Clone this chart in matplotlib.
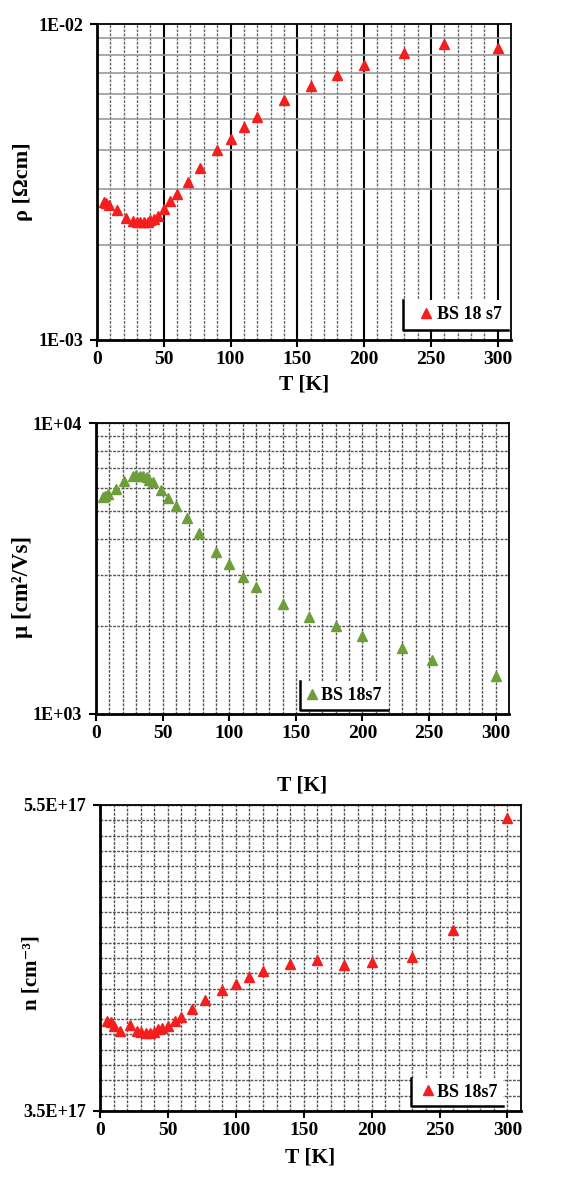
import numpy as np
import matplotlib
matplotlib.use('Agg')
import matplotlib.pyplot as plt
from matplotlib.ticker import MultipleLocator, FixedLocator, LogLocator, NullFormatter
from matplotlib.lines import Line2D

plt.rcParams['font.family'] = ['Liberation Serif', 'DejaVu Serif']
plt.rcParams['font.weight'] = 'bold'

# resistivity
T_rho = [5, 7, 9, 15, 22, 27, 30, 32, 35, 38, 40, 43, 46, 50, 55, 60, 68, 77,
         90, 100, 110, 120, 140, 160, 180, 200, 230, 260, 300]
rho = [2.73, 2.71, 2.67, 2.58, 2.43, 2.38, 2.36, 2.36, 2.36, 2.37, 2.40, 2.42,
       2.47, 2.60, 2.75, 2.90, 3.16, 3.49, 3.99, 4.34, 4.73, 5.09, 5.75, 6.37,
       6.88, 7.42, 8.07, 8.62, 8.42]  # x1e-3 Ohm cm

# mobility
T_mu = [5, 7, 9, 15, 21, 28, 30, 33, 35, 38, 40, 43, 49, 54, 60, 68, 77, 90,
        100, 110, 120, 140, 160, 180, 200, 230, 252, 300]
mu = [5.55, 5.63, 5.70, 5.93, 6.30, 6.56, 6.63, 6.60, 6.58, 6.50, 6.38, 6.25,
      5.90, 5.52, 5.17, 4.72, 4.19, 3.59, 3.28, 2.96, 2.73, 2.39, 2.15, 2.00,
      1.85, 1.69, 1.53, 1.354]  # x1e3 cm2/Vs

# carrier concentration
T_n = [5, 8, 10, 15, 22, 27, 30, 34, 37, 40, 43, 46, 50, 55, 60, 68, 77, 90,
       100, 110, 120, 140, 160, 180, 200, 230, 260, 300]
n = [4.09, 4.08, 4.058, 4.025, 4.06, 4.025, 4.014, 4.008, 4.012, 4.018, 4.034,
     4.04, 4.056, 4.09, 4.117, 4.165, 4.225, 4.29, 4.33, 4.374, 4.417, 4.459,
     4.485, 4.452, 4.474, 4.509, 4.683, 5.413]  # x1e17 cm-3

red = '#F41E1E'
green = '#6E9E3A'

fig = plt.figure(figsize=(5.63, 11.78), dpi=100)
ax1 = fig.add_axes([0.1723, 0.7114, 0.7353, 0.2682])
ax2 = fig.add_axes([0.1705, 0.3939, 0.7336, 0.2470])
ax3 = fig.add_axes([0.1776, 0.0569, 0.7478, 0.2598])


def style(ax):
    ax.set_xlim(0, 310)
    ax.xaxis.set_major_locator(MultipleLocator(50))
    ax.xaxis.set_minor_locator(MultipleLocator(10))
    ax.tick_params(axis='both', which='major', direction='out', length=5,
                   width=1.5)
    ax.tick_params(axis='x', which='major', labelsize=14, pad=3)
    ax.tick_params(axis='y', which='major', labelsize=13, pad=5)
    ax.tick_params(axis='both', which='minor', length=0)
    for s in ax.spines.values():
        s.set_color('black')
        s.set_linewidth(1.3)
    ax.spines['left'].set_linewidth(2)
    ax.spines['bottom'].set_linewidth(2)
    for lab in ax.get_xticklabels() + ax.get_yticklabels():
        lab.set_fontweight('bold')
    ax.set_axisbelow(True)


def add_legend(ax, loc, anchor, bp, hl, tp):
    leg = ax.legend(loc=loc, bbox_to_anchor=anchor, borderaxespad=0,
                    borderpad=bp, handletextpad=tp, handlelength=hl,
                    prop={'weight': 'bold', 'size': 13}, fancybox=False,
                    framealpha=1, edgecolor='none')
    return leg


def legend_frame(leg):
    # left and bottom border only, like the original
    fig.canvas.draw()
    bb = leg.get_window_extent().transformed(fig.transFigure.inverted())
    fig.add_artist(Line2D([bb.x0, bb.x0, bb.x1], [bb.y1, bb.y0, bb.y0],
                          transform=fig.transFigure, color='black', lw=1.8))


# ---- resistivity
ax1.semilogy(T_rho, np.array(rho) * 1e-3, '^', color=red, ms=7.5, label='BS 18 s7')
ax1.set_ylim(1e-3, 1e-2)
style(ax1)
ax1.yaxis.set_major_locator(FixedLocator([1e-3, 1e-2]))
ax1.set_yticklabels(['1E-03', '1E-02'], fontweight='bold')
ax1.yaxis.set_minor_locator(LogLocator(subs=np.arange(2, 10)))
ax1.yaxis.set_minor_formatter(NullFormatter())
ax1.grid(True, which='minor', axis='x', color='#666666', lw=1.0, ls=(0, (2, 1)))
ax1.grid(True, which='major', axis='x', color='black', lw=1.5)
ax1.grid(True, which='minor', axis='y', color='#999999', lw=1.2)
ax1.set_xlabel('T [K]', fontsize=15.5, fontweight='bold')
ax1.xaxis.set_label_coords(0.5, -0.11)
ax1.set_ylabel('ρ [Ωcm]', fontsize=16, fontweight='bold')
ax1.yaxis.set_label_coords(-0.155, 0.5)
leg1 = add_legend(ax1, 'lower right', (0.993, 0.032), 0.36, 1.8, -0.3)

# ---- mobility
ax2.semilogy(T_mu, np.array(mu) * 1e3, '^', color=green, ms=7.5, label='BS 18s7')
ax2.set_ylim(1e3, 1e4)
style(ax2)
ax2.yaxis.set_major_locator(FixedLocator([1e3, 1e4]))
ax2.set_yticklabels(['1E+03', '1E+04'], fontweight='bold')
ax2.yaxis.set_minor_locator(LogLocator(subs=np.arange(2, 10)))
ax2.yaxis.set_minor_formatter(NullFormatter())
ax2.grid(True, which='both', axis='both', color='#555555', lw=1.0, ls=(0, (2, 1)))
ax2.set_xlabel('T [K]', fontsize=15.5, fontweight='bold')
ax2.xaxis.set_label_coords(0.5, -0.21)
ax2.set_ylabel('μ [cm²/Vs]', fontsize=16.5, fontweight='bold')
ax2.yaxis.set_label_coords(-0.153, 0.436)
leg2 = add_legend(ax2, 'lower left', (0.494, 0.014), 0.33, 0.7, 0.15)

# ---- carrier concentration
ax3.plot(T_n, np.array(n) * 1e17, '^', color=red, ms=7.5, label='BS 18s7')
ax3.set_ylim(3.5e17, 5.5e17)
style(ax3)
ax3.yaxis.set_major_locator(FixedLocator([3.5e17, 5.5e17]))
ax3.set_yticklabels(['3.5E+17', '5.5E+17'], fontweight='bold')
ax3.yaxis.set_minor_locator(MultipleLocator(1e16))
ax3.yaxis.set_minor_formatter(NullFormatter())
ax3.grid(True, which='both', axis='both', color='#555555', lw=1.0, ls=(0, (2, 1)))
ax3.set_xlabel('T [K]', fontsize=15.5, fontweight='bold')
ax3.xaxis.set_label_coords(0.5, -0.12)
ax3.set_ylabel('n [cm⁻³]', fontsize=15, fontweight='bold')
ax3.yaxis.set_label_coords(-0.138, 0.451)
leg3 = add_legend(ax3, 'lower right', (0.957, 0.016), 0.3, 1.35, -0.2)

for leg in [leg1, leg2, leg3]:
    legend_frame(leg)

fig.savefig('out.png', dpi=100)
